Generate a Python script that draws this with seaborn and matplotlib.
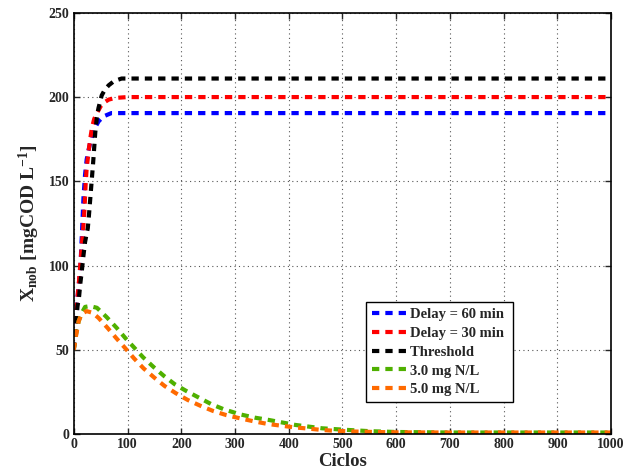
import matplotlib
matplotlib.use("Agg")
import matplotlib.pyplot as plt
import seaborn as sns
import pandas as pd

# Data (cycles vs X_nob)
cycles_delay60 = [0, 3, 6, 9, 12, 15, 18, 21, 24, 27, 30, 35, 40, 46, 55, 70, 100, 1000]
delay60 = [50, 64, 78, 88, 97, 118, 140, 154, 163, 168, 172, 178, 182, 185.5, 188.5, 190.5, 190.5, 190.5]

cycles_delay30 = [0, 3, 6, 9, 12, 15, 18, 20, 22, 24, 27, 30, 34, 38, 43, 50, 55, 65, 77, 100, 1000]
delay30 = [50, 64, 78, 88, 100, 112, 124, 134, 148, 158, 166, 174, 182, 187, 190.5, 194.5, 196.5, 198.5, 199.5, 200, 200]

cycles_threshold = [0, 3, 7, 10, 12, 15, 18, 21, 24, 26, 28, 30, 32, 34, 36, 38, 40, 43, 46, 52, 58, 65, 75, 89, 100, 1000]
threshold = [50, 62, 76, 82, 89, 97, 106, 114, 119, 122, 129, 137, 145, 153, 161, 170, 179, 188, 193.5, 201, 204.5, 207, 209.5, 211, 211, 211]

cycles_n3 = [0, 4, 9, 15, 21, 30, 43, 61, 80, 96, 112, 129, 149, 168, 188, 209, 235, 256, 279, 309,
             337, 362, 387, 412, 437, 462, 486, 511, 550, 600, 700, 800, 1000]
n3 = [50, 59, 67, 72, 75.5, 76, 75, 69.5, 63, 57, 51.5, 45.6, 39.7, 34.5, 29.6, 25.7, 21.3, 17.8, 14.8, 11.8,
      9.8, 8.5, 7, 5.5, 4.5, 3.5, 3, 2.5, 1.8, 1.3, 1.0, 1.0, 1.0]

cycles_n5 = [0, 4, 9, 15, 24, 35, 46, 63, 79, 95, 112, 130, 150, 169, 190, 212, 236, 259, 284, 312,
             337, 362, 387, 412, 437, 462, 486, 520, 560, 600, 700, 800, 1000]
n5 = [50, 58, 67, 71.5, 73, 72, 69, 63, 57, 51.3, 45, 39, 33.5, 28.6, 24.3, 20.3, 16.8, 13.8, 11.3, 9.2,
      7.5, 6, 5, 4, 3.3, 2.5, 2, 1.6, 1.3, 1.1, 1.0, 1.0, 1.0]

labels = ["Delay = 60 min", "Delay = 30 min", "Threshold", "3.0 mg N/L", "5.0 mg N/L"]
colors = ["#0000ff", "#ff0000", "#000000", "#4fb000", "#ff6a00"]

series = [
    (cycles_delay60, delay60),
    (cycles_delay30, delay30),
    (cycles_threshold, threshold),
    (cycles_n3, n3),
    (cycles_n5, n5),
]

sns.set_style("ticks")
plt.rcParams["font.family"] = ["Liberation Serif", "DejaVu Serif"]
plt.rcParams["font.weight"] = "bold"
plt.rcParams["mathtext.fontset"] = "custom"
plt.rcParams["mathtext.rm"] = "Liberation Serif:bold"
plt.rcParams["mathtext.bf"] = "Liberation Serif:bold"
plt.rcParams["mathtext.default"] = "bf"

fig = plt.figure(figsize=(6.36, 4.74), dpi=100)
ax = fig.add_axes([0.116, 0.084, 0.845, 0.889])

for (xs, ys), label, color in zip(series, labels, colors):
    df = pd.DataFrame({"Ciclos": xs, "X": ys})
    sns.lineplot(data=df, x="Ciclos", y="X", ax=ax, color=color, label=label,
                 linewidth=3.0, linestyle=(0, (1.75, 1.45)), sort=True)

ax.set_xlim(0, 1000)
ax.set_ylim(0, 250)
ax.set_xticks(range(0, 1001, 100))
ax.set_yticks(range(0, 251, 50))
ax.grid(True, linestyle=(0, (1, 3)), color="#555555", linewidth=0.8)
ax.tick_params(direction="in", top=True, right=True, length=4, width=1,
               labelsize=10, pad=3)
for lab in ax.get_xticklabels() + ax.get_yticklabels():
    lab.set_fontweight("bold")
for sp in ax.spines.values():
    sp.set_visible(True)
    sp.set_linewidth(1.2)
    sp.set_color("black")

ax.set_xlabel("Ciclos", fontsize=13.5, fontweight="bold", labelpad=1)
ax.set_ylabel(r"X$_{nob}$ [mgCOD L$^{-1}$]", fontsize=14, fontweight="bold", labelpad=5)

leg = ax.legend(loc="lower left", bbox_to_anchor=(0.544, 0.076), borderaxespad=0,
                frameon=True, fancybox=False, edgecolor="black", framealpha=1,
                prop={"weight": "bold", "size": 10.5}, handlelength=2.35,
                handletextpad=0.25, labelspacing=0.38, borderpad=0.4)
leg.get_frame().set_linewidth(1.0)
# stretch the frame a little to the right, like the reference box
for t in leg.get_texts():
    t.set_text(t.get_text() + " ")

fig.savefig("out.png", dpi=100)
